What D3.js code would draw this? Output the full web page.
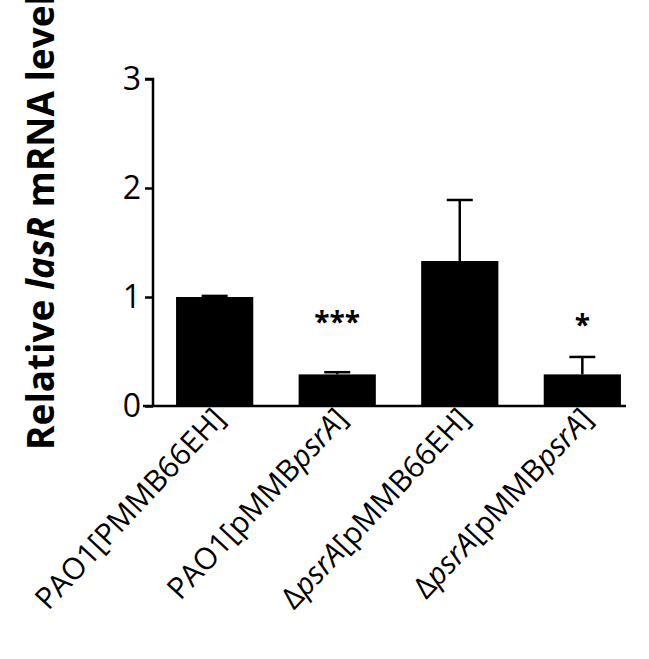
<!DOCTYPE html><html><head><meta charset="utf-8"><script src="https://d3js.org/d3.v7.min.js"></script>
<style>body{margin:0;background:#fff}</style></head><body><svg id="c" width="649" height="659"></svg><script>
const categories=[["PAO1[PMMB66EH]"],["PAO1[pMMB","psrA","]"],["","Δ","psrA","[pMMB66EH]"],["","Δ","psrA","[pMMB","psrA","]"]];
const values=[1.0,0.29,1.33,0.29];
const errors=[0.01,0.02,0.56,0.16];
const stars=["","***","","*"];
const yTicks=[0,1,2,3];
const svg=d3.select("#c");
const font="'Open Sans', sans-serif";
const y=d3.scaleLinear().domain([0,3]).range([406,79]);
const x=d3.scaleBand().domain(d3.range(4)).range([154,643]).paddingInner(0.37).paddingOuter(0.18);
const g=svg.append("g");
g.selectAll("rect.b").data(values).join("rect").attr("x",(d,i)=>x(i)).attr("width",x.bandwidth()).attr("y",d=>y(d)).attr("height",d=>y(0)-y(d)).attr("fill","#000");
values.forEach((v,i)=>{const cx=x(i)+x.bandwidth()/2;
 g.append("line").attr("x1",cx).attr("x2",cx).attr("y1",y(v)).attr("y2",y(v+errors[i])).attr("stroke","#000").attr("stroke-width",2.5);
 g.append("line").attr("x1",cx-13).attr("x2",cx+13).attr("y1",y(v+errors[i])).attr("y2",y(v+errors[i])).attr("stroke","#000").attr("stroke-width",2.5);
 if(stars[i]) g.append("text").attr("x",cx).attr("y",y(v+errors[i])-(i==1?40:22)).attr("text-anchor","middle").attr("font-family",font).attr("font-weight","bold").attr("font-size",28).text(stars[i]);
});
const ax=svg.append("g").attr("transform","translate(153,0)").call(d3.axisLeft(y).tickValues(yTicks).tickSize(8).tickFormat(d3.format("d")));
ax.select(".domain").attr("stroke-width",2.5).attr("d","M-8,79H0V406");
ax.selectAll(".tick line").attr("stroke-width",2.5);
ax.selectAll("text").attr("font-family",font).attr("font-size",32).attr("fill","#000").attr("x",-12);
svg.append("line").attr("x1",143).attr("x2",626).attr("y1",406).attr("y2",406).attr("stroke","#000").attr("stroke-width",2.5);
categories.forEach((parts,i)=>{const cx=x(i)+x.bandwidth()/2;
 const t=svg.append("text").attr("transform",`translate(${cx+12},${420}) rotate(-47)`).attr("text-anchor","end").attr("font-family",font).attr("font-size",30).attr("fill","#000");
 parts.forEach((p,j)=>{if(p==="")return;t.append("tspan").attr("font-style",(p==="psrA")?"italic":"normal").text(p);});
});
const yl=svg.append("text").attr("transform","translate(54,222) rotate(-90)").attr("text-anchor","middle").attr("font-family",font).attr("font-weight","bold").attr("font-size",37);
yl.append("tspan").text("Relative ");yl.append("tspan").attr("font-style","italic").text("lasR");yl.append("tspan").text(" mRNA level");
</script></body></html>
